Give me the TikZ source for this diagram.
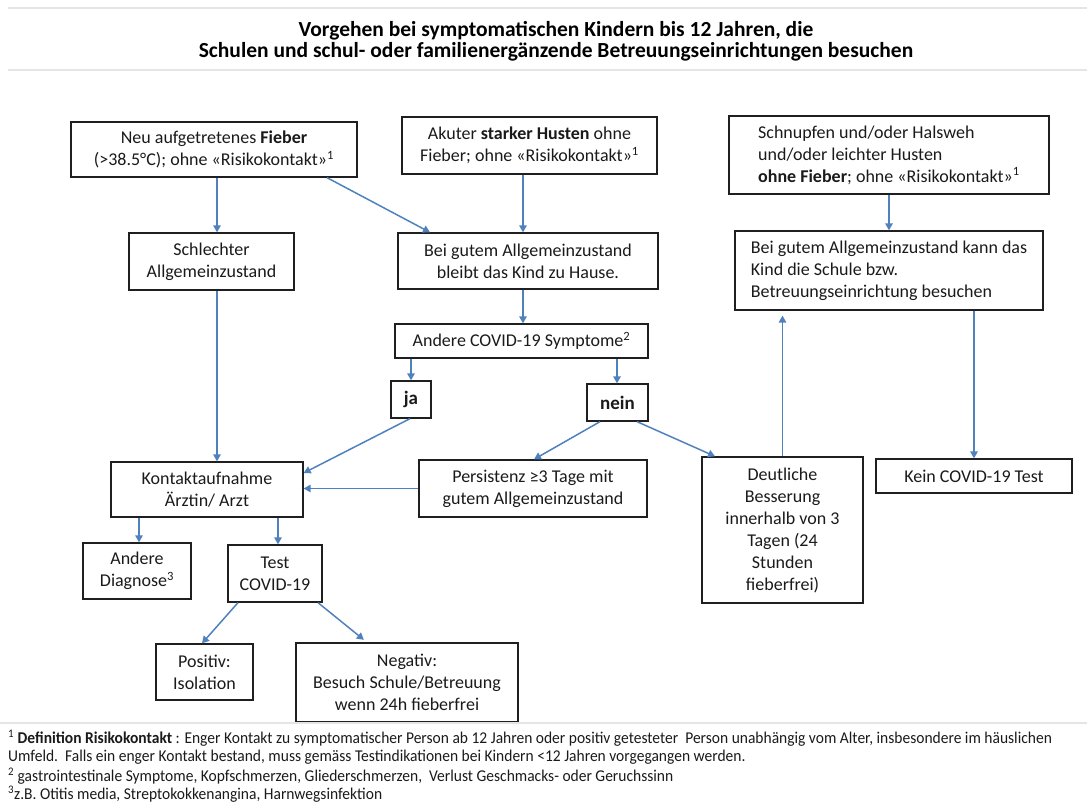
\documentclass[tikz,border=0pt]{standalone}
\usepackage{fontspec}
\setmainfont{Carlito}
\newfontfamily\notefont[FakeStretch=0.94]{Carlito}
\usetikzlibrary{arrows.meta}
\definecolor{arrowblue}{HTML}{4F81BD}
\definecolor{boxline}{HTML}{1F1F1F}
\definecolor{txt}{HTML}{1A1A1A}
\begin{document}
\begin{tikzpicture}[x=1pt,y=-1pt,
  box/.style={draw=boxline, line width=1.3pt, text=txt, inner sep=2pt, align=center,
    font=\fontsize{18}{22}\selectfont},
  lbox/.style={box, align=left},
  sz/.style 2 args={minimum width=#1pt, minimum height=#2pt},
  arr/.style={draw=arrowblue, line width=1.5pt, -{Triangle[length=7pt,width=7.5pt]}},
  note/.style={anchor=west, inner sep=0pt, text=txt, font=\notefont\fontsize{16.5}{19}\selectfont},
  titlestyle/.style={align=center, inner sep=0pt, text=black, font=\bfseries\fontsize{21.5}{21}\selectfont}
]
\useasboundingbox (0,0) rectangle (1087,803);
% title band
\draw[black!10, line width=1.2pt] (8,8) -- (1087,8);
\draw[black!10, line width=1.2pt] (8,70) -- (1087,70);
\node[titlestyle] (title) at (556,41) {Vorgehen bei symptomatischen Kindern bis 12 Jahren, die\\Schulen und schul- oder familienergänzende Betreuungseinrichtungen besuchen};

% boxes
\node[box, sz={286}{55}] (fieber) at (214,149.5) {Neu aufgetretenes \textbf{Fieber}\\(>38.5°C); ohne «Risikokontakt»\textsuperscript{1}};
\node[box, sz={255}{57}] (husten) at (529.5,145.5) {Akuter \textbf{starker Husten} ohne\\Fieber; ohne «Risikokontakt»\textsuperscript{1}};
\node[lbox, sz={320}{78}] (schnupfen) at (889,155) {Schnupfen und/oder Halsweh\\und/oder leichter Husten\\\textbf{ohne Fieber}; ohne «Risikokontakt»\textsuperscript{1}};
\node[box, sz={165}{57}] (schlecht) at (211.5,261.5) {Schlechter\\Allgemeinzustand};
\node[box, sz={260}{56}] (gutem) at (528,261) {Bei gutem Allgemeinzustand\\bleibt das Kind zu Hause.};
\node[lbox, sz={308}{79}] (gutemR) at (889,270.5) {Bei gutem Allgemeinzustand kann das\\Kind die Schule bzw.\\Betreuungseinrichtung besuchen};
\node[box, sz={253}{34}] (andere) at (521.5,341) {Andere COVID-19 Symptome\textsuperscript{2}};
\node[box, sz={40}{37}, font=\bfseries\fontsize{19}{22}\selectfont] (ja) at (411,399.5) {ja};
\node[box, sz={61}{37}, font=\bfseries\fontsize{19}{22}\selectfont] (nein) at (617.5,402.5) {nein};
\node[box, sz={192}{55}] (kontakt) at (207,489.5) {Kontaktaufnahme\\Ärztin/ Arzt};
\node[box, sz={228}{57}] (persist) at (533,488.5) {Persistenz ≥3 Tage mit\\gutem Allgemeinzustand};
\node[box, sz={161}{146}] (deut) at (782.5,530) {Deutliche\\Besserung\\innerhalb von 3\\Tagen (24\\Stunden\\fieberfrei)};
\node[box, sz={196}{34}] (kein) at (974,476) {Kein COVID-19 Test};
\node[box, sz={108}{56}] (diag) at (137,571) {Andere\\Diagnose\textsuperscript{3}};
\node[box, sz={94}{57}] (test) at (275,573.5) {Test\\COVID-19};
\node[box, sz={97}{56}] (pos) at (204.5,672) {Positiv:\\Isolation};
\node[box, sz={222}{79}] (neg) at (407,682.5) {Negativ:\\Besuch Schule/Betreuung\\wenn 24h fieberfrei};

% connectors
\draw[arr] ([xshift=3pt]fieber.south) -- ([xshift=5.5pt]schlecht.north);
\draw[arr] ([xshift=113pt]fieber.south) -- ([xshift=-98pt]gutem.north);
\draw[arr] ([xshift=-6.5pt]husten.south) -- ([xshift=-5pt]gutem.north);
\draw[arr] ([xshift=-5pt]gutem.south) -- ([xshift=1.5pt]andere.north);
\draw[arr] ([xshift=-110.5pt]andere.south) -- (ja.north);
\draw[arr] ([xshift=95.5pt]andere.south) -- ([xshift=-0.5pt]nein.north);
\draw[arr] ([xshift=5.5pt]schlecht.south) -- ([xshift=10pt]kontakt.north);
\draw[arr] ([xshift=-1pt]ja.south) -- ([yshift=16.5pt]kontakt.east);
\draw[arr] ([xshift=-17.5pt]nein.south) -- ([xshift=1pt]persist.north);
\draw[arr] ([xshift=19.5pt]nein.south) -- ([xshift=-67.5pt]deut.north);
\draw[arr] (persist.west) -- (persist.west -| kontakt.east);
\draw[arr, shorten >=5pt] (deut.north) -- (deut.north |- gutemR.south);
\draw[arr] ([xshift=85pt]gutemR.south) -- (kein.north);
\draw[arr] (schnupfen.south) -- (gutemR.north);
\draw[arr] ([xshift=-68pt]kontakt.south) -- ([xshift=2pt]diag.north);
\draw[arr] ([xshift=71pt]kontakt.south) -- ([xshift=3pt]test.north);
\draw[arr] ([xshift=-37pt]test.south) -- ([xshift=-2.5pt]pos.north);
\draw[arr, shorten >=4pt] ([xshift=43pt]test.south) -- ([xshift=-40pt]neg.north);

% footnotes
\draw[black!10, line width=1.2pt] (0,723) -- (1087,723);
\node[note] (fn1) at (8,738) {\textsuperscript{1} \textbf{Definition Risikokontakt} : Enger Kontakt zu symptomatischer Person ab 12 Jahren oder positiv getesteter\ \ Person unabhängig vom Alter, insbesondere im häuslichen};
\node[note] (fn2) at (8,757) {Umfeld.\ \ Falls ein enger Kontakt bestand, muss gemäss Testindikationen bei Kindern <12 Jahren vorgegangen werden.};
\node[note] (fn3) at (8,776) {\textsuperscript{2} gastrointestinale Symptome, Kopfschmerzen, Gliederschmerzen,\ \ Verlust Geschmacks- oder Geruchssinn};
\node[note] (fn4) at (8,794) {\textsuperscript{3}z.B. Otitis media, Streptokokkenangina, Harnwegsinfektion};
\end{tikzpicture}
\end{document}
